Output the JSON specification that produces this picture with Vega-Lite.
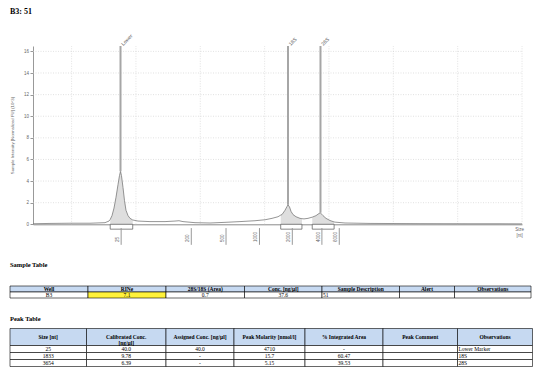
{
  "$schema": "https://vega.github.io/schema/vega-lite/v6.json",
  "width": 544,
  "height": 391,
  "autosize": {"type": "none"},
  "padding": 0,
  "background": "white",
  "config": {"view": {"stroke": null}, "font": "Liberation Sans"},
  "title": {"text": "B3: 51", "anchor": "start", "frame": "group", "dx": 10, "offset": -16, "baseline": "top", "font": "Liberation Serif", "fontSize": 8, "fontWeight": "bold", "color": "#000"},
  "datasets": {
    "curve": [
      {"u": 0.40, "v": 0.05, "r": ""}, {"u": 0.664, "v": 0.08, "r": ""}, {"u": 0.975, "v": 0.1, "r": ""},
      {"u": 1.286, "v": 0.1, "r": ""}, {"u": 1.519, "v": 0.15, "r": ""}, {"u": 1.581, "v": 0.3, "r": ""},
      {"u": 1.60, "v": 0.45, "r": "Lower"}, {"u": 1.628, "v": 0.8, "r": "Lower"}, {"u": 1.659, "v": 1.5, "r": "Lower"},
      {"u": 1.690, "v": 2.5, "r": "Lower"}, {"u": 1.722, "v": 3.7, "r": "Lower"}, {"u": 1.744, "v": 4.5, "r": "Lower"},
      {"u": 1.760, "v": 4.9, "r": "Lower"}, {"u": 1.775, "v": 4.5, "r": "Lower"}, {"u": 1.799, "v": 3.4, "r": "Lower"},
      {"u": 1.822, "v": 2.2, "r": "Lower"}, {"u": 1.845, "v": 1.3, "r": "Lower"}, {"u": 1.877, "v": 0.8, "r": "Lower"},
      {"u": 1.908, "v": 0.55, "r": "Lower"}, {"u": 1.95, "v": 0.4, "r": "Lower"},
      {"u": 2.032, "v": 0.3, "r": ""}, {"u": 2.218, "v": 0.25, "r": ""}, {"u": 2.452, "v": 0.25, "r": ""},
      {"u": 2.607, "v": 0.3, "r": ""}, {"u": 2.669, "v": 0.33, "r": ""}, {"u": 2.731, "v": 0.25, "r": ""},
      {"u": 2.918, "v": 0.15, "r": ""}, {"u": 3.151, "v": 0.12, "r": ""}, {"u": 3.384, "v": 0.18, "r": ""},
      {"u": 3.617, "v": 0.25, "r": ""}, {"u": 3.850, "v": 0.33, "r": ""}, {"u": 4.006, "v": 0.42, "r": ""},
      {"u": 4.115, "v": 0.55, "r": ""}, {"u": 4.208, "v": 0.7, "r": ""},
      {"u": 4.25, "v": 0.85, "r": "18S"}, {"u": 4.270, "v": 0.9, "r": "18S"}, {"u": 4.317, "v": 1.3, "r": "18S"},
      {"u": 4.348, "v": 1.65, "r": "18S"}, {"u": 4.363, "v": 1.8, "r": "18S"}, {"u": 4.387, "v": 1.6, "r": "18S"},
      {"u": 4.410, "v": 1.2, "r": "18S"}, {"u": 4.441, "v": 0.9, "r": "18S"}, {"u": 4.488, "v": 0.7, "r": "18S"},
      {"u": 4.550, "v": 0.55, "r": "18S"}, {"u": 4.58, "v": 0.52, "r": "18S"},
      {"u": 4.612, "v": 0.5, "r": ""}, {"u": 4.674, "v": 0.55, "r": ""},
      {"u": 4.74, "v": 0.66, "r": "28S"}, {"u": 4.798, "v": 0.8, "r": "28S"}, {"u": 4.845, "v": 1.0, "r": "28S"},
      {"u": 4.868, "v": 1.07, "r": "28S"}, {"u": 4.876, "v": 1.0, "r": "28S"}, {"u": 4.907, "v": 0.8, "r": "28S"},
      {"u": 4.954, "v": 0.55, "r": "28S"}, {"u": 5.016, "v": 0.35, "r": "28S"}, {"u": 5.08, "v": 0.22, "r": "28S"},
      {"u": 5.094, "v": 0.2, "r": ""}, {"u": 5.249, "v": 0.12, "r": ""}, {"u": 5.638, "v": 0.08, "r": ""},
      {"u": 6.415, "v": 0.06, "r": ""}, {"u": 7.192, "v": 0.05, "r": ""}, {"u": 7.658, "v": 0.05, "r": ""},
      {"u": 8.0, "v": 0.04, "r": ""}
    ],
    "peaks": [
      {"name": "Lower", "u": 1.76, "v": 4.9, "x0": 1.60, "x1": 1.95},
      {"name": "18S", "u": 4.363, "v": 1.8, "x0": 4.25, "x1": 4.58},
      {"name": "28S", "u": 4.868, "v": 1.07, "x0": 4.74, "x1": 5.08}
    ],
    "ladder": [
      {"size": "25", "u": 1.77}, {"size": "200", "u": 2.86}, {"size": "500", "u": 3.40},
      {"size": "1000", "u": 3.92}, {"size": "2000", "u": 4.43}, {"size": "4000", "u": 4.89}, {"size": "6000", "u": 5.16}
    ],
    "gridy": [{"g": 2}, {"g": 4}, {"g": 6}, {"g": 8}, {"g": 10}, {"g": 12}, {"g": 14}, {"g": 16}],
    "gridx": [{"g": 1}, {"g": 2}, {"g": 3}, {"g": 4}, {"g": 5}, {"g": 6}, {"g": 7}, {"g": 8}],
    "titles": [
      {"s": "Sample Table", "x": 0, "y": 14.5},
      {"s": "Peak Table", "x": 0, "y": 69}
    ],
    "cells": [
      {"x0": 0, "x1": 78, "y0": 36, "y1": 42, "k": "head", "a": "c", "s": "Well"},
      {"x0": 78, "x1": 156, "y0": 36, "y1": 42, "k": "head", "a": "c", "s": "RINe"},
      {"x0": 156, "x1": 234.5, "y0": 36, "y1": 42, "k": "head", "a": "c", "s": "28S/18S (Area)"},
      {"x0": 234.5, "x1": 312, "y0": 36, "y1": 42, "k": "head", "a": "c", "s": "Conc. [ng/µl]"},
      {"x0": 312, "x1": 389.5, "y0": 36, "y1": 42, "k": "head", "a": "c", "s": "Sample Description"},
      {"x0": 389.5, "x1": 444.5, "y0": 36, "y1": 42, "k": "head", "a": "c", "s": "Alert"},
      {"x0": 444.5, "x1": 521, "y0": 36, "y1": 42, "k": "head", "a": "c", "s": "Observations"},
      {"x0": 0, "x1": 78, "y0": 42, "y1": 48, "k": "body", "a": "c", "s": "B3"},
      {"x0": 78, "x1": 156, "y0": 42, "y1": 48, "k": "hi", "a": "c", "s": "7.1"},
      {"x0": 156, "x1": 234.5, "y0": 42, "y1": 48, "k": "body", "a": "c", "s": "0.7"},
      {"x0": 234.5, "x1": 312, "y0": 42, "y1": 48, "k": "body", "a": "c", "s": "37.6"},
      {"x0": 312, "x1": 389.5, "y0": 42, "y1": 48, "k": "body", "a": "l", "s": "51"},
      {"x0": 389.5, "x1": 444.5, "y0": 42, "y1": 48, "k": "body", "a": "c", "s": ""},
      {"x0": 444.5, "x1": 521, "y0": 42, "y1": 48, "k": "body", "a": "c", "s": ""},

      {"x0": 0, "x1": 76.5, "y0": 78.5, "y1": 95.5, "k": "head", "a": "c", "s": "Size [nt]"},
      {"x0": 76.5, "x1": 156, "y0": 78.5, "y1": 95.5, "k": "head", "a": "c", "s": "Calibrated Conc.\n[ng/µl]"},
      {"x0": 156, "x1": 224, "y0": 78.5, "y1": 95.5, "k": "head", "a": "c", "s": "Assigned Conc. [ng/µl]"},
      {"x0": 224, "x1": 295, "y0": 78.5, "y1": 95.5, "k": "head", "a": "c", "s": "Peak Molarity [nmol/l]"},
      {"x0": 295, "x1": 373, "y0": 78.5, "y1": 95.5, "k": "head", "a": "c", "s": "% Integrated Area"},
      {"x0": 373, "x1": 447.5, "y0": 78.5, "y1": 95.5, "k": "head", "a": "c", "s": "Peak Comment"},
      {"x0": 447.5, "x1": 522.5, "y0": 78.5, "y1": 95.5, "k": "head", "a": "c", "s": "Observations"},

      {"x0": 0, "x1": 76.5, "y0": 95.5, "y1": 102.5, "k": "body", "a": "c", "s": "25"},
      {"x0": 76.5, "x1": 156, "y0": 95.5, "y1": 102.5, "k": "body", "a": "c", "s": "40.0"},
      {"x0": 156, "x1": 224, "y0": 95.5, "y1": 102.5, "k": "body", "a": "c", "s": "40.0"},
      {"x0": 224, "x1": 295, "y0": 95.5, "y1": 102.5, "k": "body", "a": "c", "s": "4710"},
      {"x0": 295, "x1": 373, "y0": 95.5, "y1": 102.5, "k": "body", "a": "c", "s": "-"},
      {"x0": 373, "x1": 447.5, "y0": 95.5, "y1": 102.5, "k": "body", "a": "c", "s": ""},
      {"x0": 447.5, "x1": 522.5, "y0": 95.5, "y1": 102.5, "k": "body", "a": "l", "s": "Lower Marker"},

      {"x0": 0, "x1": 76.5, "y0": 102.5, "y1": 109.5, "k": "body", "a": "c", "s": "1833"},
      {"x0": 76.5, "x1": 156, "y0": 102.5, "y1": 109.5, "k": "body", "a": "c", "s": "9.78"},
      {"x0": 156, "x1": 224, "y0": 102.5, "y1": 109.5, "k": "body", "a": "c", "s": "-"},
      {"x0": 224, "x1": 295, "y0": 102.5, "y1": 109.5, "k": "body", "a": "c", "s": "15.7"},
      {"x0": 295, "x1": 373, "y0": 102.5, "y1": 109.5, "k": "body", "a": "c", "s": "60.47"},
      {"x0": 373, "x1": 447.5, "y0": 102.5, "y1": 109.5, "k": "body", "a": "c", "s": ""},
      {"x0": 447.5, "x1": 522.5, "y0": 102.5, "y1": 109.5, "k": "body", "a": "l", "s": "18S"},

      {"x0": 0, "x1": 76.5, "y0": 109.5, "y1": 116.5, "k": "body", "a": "c", "s": "3654"},
      {"x0": 76.5, "x1": 156, "y0": 109.5, "y1": 116.5, "k": "body", "a": "c", "s": "6.39"},
      {"x0": 156, "x1": 224, "y0": 109.5, "y1": 116.5, "k": "body", "a": "c", "s": "-"},
      {"x0": 224, "x1": 295, "y0": 109.5, "y1": 116.5, "k": "body", "a": "c", "s": "5.15"},
      {"x0": 295, "x1": 373, "y0": 109.5, "y1": 116.5, "k": "body", "a": "c", "s": "39.53"},
      {"x0": 373, "x1": 447.5, "y0": 109.5, "y1": 116.5, "k": "body", "a": "c", "s": ""},
      {"x0": 447.5, "x1": 522.5, "y0": 109.5, "y1": 116.5, "k": "body", "a": "l", "s": "28S"}
    ]
  },
  "layer": [
    {
      "layer": [
        {
          "data": {"name": "gridy"},
          "mark": {"type": "rule", "color": "#cfcfcf", "strokeWidth": 0.6, "strokeDash": [1, 1.5]},
          "encoding": {
            "x": {"datum": 0.4, "type": "quantitative",
              "scale": {"domain": [0.4, 8.0], "range": [33, 522], "nice": false, "zero": false},
              "axis": {"domain": true, "domainColor": "#8a8a8a", "domainWidth": 1, "ticks": false, "labels": false, "grid": false,
                "offset": -166.7, "title": ["Size", "[nt]"], "titleFontSize": 4.5, "titleColor": "#666", "titleFontWeight": "normal",
                "titleX": 519, "titleY": 2, "titleAlign": "center", "titleBaseline": "top", "titleAngle": 0, "titleLineHeight": 6}},
            "x2": {"datum": 8.0},
            "y": {"field": "g", "type": "quantitative",
              "scale": {"domain": [0, 16.5], "range": [224.3, 46], "nice": false, "zero": false},
              "axis": {"values": [0, 0.5, 1, 1.5, 2, 2.5, 3, 3.5, 4, 4.5, 5, 5.5, 6, 6.5, 7, 7.5, 8, 8.5, 9, 9.5, 10, 10.5, 11, 11.5, 12, 12.5, 13, 13.5, 14, 14.5, 15, 15.5, 16],
                "labelExpr": "datum.value % 2 === 0 ? '' + datum.value : ''",
                "tickSize": {"condition": {"test": "datum.value % 2 === 0", "value": 3}, "value": 1.5},
                "tickColor": "#999", "domainColor": "#999", "labelFontSize": 4.5, "labelColor": "#666", "labelPadding": 1.5,
                "labelOverlap": false, "labelFlush": false, "grid": false, "offset": -33,
                "title": "Sample Intensity [Normalized FU] (10^3)", "titleFontSize": 4.3, "titleFontWeight": "normal", "titleColor": "#666",
                "titleX": -21, "titleY": 135, "titleAngle": 270, "titleAlign": "center", "titleBaseline": "middle"}}
          }
        },
        {
          "data": {"name": "gridx"},
          "mark": {"type": "rule", "color": "#cfcfcf", "strokeWidth": 0.6, "strokeDash": [1, 1.5]},
          "encoding": {
            "x": {"field": "g", "type": "quantitative"},
            "y": {"datum": 0, "type": "quantitative"},
            "y2": {"datum": 16.5}
          }
        },
        {
          "data": {"name": "curve"},
          "transform": [{"filter": "datum.r == 'Lower'"}],
          "mark": {"type": "area", "color": "#dedede", "opacity": 1},
          "encoding": {
            "x": {"field": "u", "type": "quantitative"},
            "y": {"field": "v", "type": "quantitative", "stack": null}
          }
        },
        {
          "data": {"name": "curve"},
          "transform": [{"filter": "datum.r == '18S'"}],
          "mark": {"type": "area", "color": "#dedede", "opacity": 1},
          "encoding": {
            "x": {"field": "u", "type": "quantitative"},
            "y": {"field": "v", "type": "quantitative", "stack": null}
          }
        },
        {
          "data": {"name": "curve"},
          "transform": [{"filter": "datum.r == '28S'"}],
          "mark": {"type": "area", "color": "#dedede", "opacity": 1},
          "encoding": {
            "x": {"field": "u", "type": "quantitative"},
            "y": {"field": "v", "type": "quantitative", "stack": null}
          }
        },
        {
          "data": {"name": "curve"},
          "mark": {"type": "line", "color": "#7a7a7a", "strokeWidth": 0.8},
          "encoding": {
            "x": {"field": "u", "type": "quantitative"},
            "y": {"field": "v", "type": "quantitative"}
          }
        },
        {
          "data": {"name": "peaks"},
          "mark": {"type": "rule", "color": "#a6a6a6", "strokeWidth": 2},
          "encoding": {
            "x": {"field": "u", "type": "quantitative"},
            "y": {"field": "v", "type": "quantitative"},
            "y2": {"datum": 16.5}
          }
        },
        {
          "data": {"name": "peaks"},
          "mark": {"type": "text", "angle": 315, "align": "left", "baseline": "middle", "fontSize": 5, "color": "#555", "dx": 2},
          "encoding": {
            "x": {"field": "u", "type": "quantitative"},
            "y": {"datum": 16.5, "type": "quantitative"},
            "text": {"field": "name"}
          }
        },
        {
          "data": {"name": "peaks"},
          "mark": {"type": "rect", "fill": "white", "stroke": "#555", "strokeWidth": 0.7},
          "encoding": {
            "x": {"field": "x0", "type": "quantitative"},
            "x2": {"field": "x1"},
            "y": {"datum": 0, "type": "quantitative"},
            "y2": {"datum": -0.45}
          }
        },
        {
          "data": {"name": "ladder"},
          "mark": {"type": "rule", "color": "#999", "strokeWidth": 1},
          "encoding": {
            "x": {"field": "u", "type": "quantitative"},
            "y": {"datum": -0.35, "type": "quantitative"},
            "y2": {"datum": -1.9}
          }
        },
        {
          "data": {"name": "ladder"},
          "mark": {"type": "text", "angle": 270, "align": "left", "baseline": "bottom", "fontSize": 4.5, "color": "#666", "dy": -1},
          "encoding": {
            "x": {"field": "u", "type": "quantitative"},
            "y": {"datum": -1.64, "type": "quantitative"},
            "text": {"field": "size"}
          }
        }
      ]
    },
    {
      "layer": [
        {
          "data": {"name": "cells"},
          "mark": {"type": "rect", "stroke": "#000", "strokeWidth": 0.6},
          "encoding": {
            "x": {"field": "x0", "type": "quantitative", "axis": null,
              "scale": {"domain": [0, 521], "range": [10, 531], "nice": false, "zero": false}},
            "x2": {"field": "x1"},
            "y": {"field": "y0", "type": "quantitative", "axis": null,
              "scale": {"domain": [0, 141], "range": [250, 391], "nice": false, "zero": false}},
            "y2": {"field": "y1"},
            "fill": {"field": "k", "type": "nominal", "legend": null,
              "scale": {"domain": ["head", "body", "hi"], "range": ["#c6d9f1", "#ffffff", "#fff23a"]}}
          }
        },
        {
          "data": {"name": "cells"},
          "transform": [{"filter": "datum.k == 'head'"}, {"calculate": "(datum.x0 + datum.x1) / 2", "as": "xm"}, {"calculate": "(datum.y0 + datum.y1) / 2", "as": "ym"}],
          "mark": {"type": "text", "font": "Liberation Serif", "fontSize": 5.5, "fontWeight": "bold", "color": "#000", "align": "center", "baseline": "middle", "lineBreak": "\n", "lineHeight": 6},
          "encoding": {
            "x": {"field": "xm", "type": "quantitative", "axis": null},
            "y": {"field": "ym", "type": "quantitative", "axis": null},
            "text": {"field": "s"}
          }
        },
        {
          "data": {"name": "cells"},
          "transform": [{"filter": "datum.k != 'head' && datum.a == 'c'"}, {"calculate": "(datum.x0 + datum.x1) / 2", "as": "xm"}, {"calculate": "(datum.y0 + datum.y1) / 2", "as": "ym"}],
          "mark": {"type": "text", "font": "Liberation Serif", "fontSize": 5.5, "color": "#000", "align": "center", "baseline": "middle"},
          "encoding": {
            "x": {"field": "xm", "type": "quantitative", "axis": null},
            "y": {"field": "ym", "type": "quantitative", "axis": null},
            "text": {"field": "s"}
          }
        },
        {
          "data": {"name": "cells"},
          "transform": [{"filter": "datum.k != 'head' && datum.a == 'l'"}, {"calculate": "(datum.y0 + datum.y1) / 2", "as": "ym"}],
          "mark": {"type": "text", "font": "Liberation Serif", "fontSize": 5.5, "color": "#000", "align": "left", "baseline": "middle", "dx": 1},
          "encoding": {
            "x": {"field": "x0", "type": "quantitative", "axis": null},
            "y": {"field": "ym", "type": "quantitative", "axis": null},
            "text": {"field": "s"}
          }
        },
        {
          "data": {"name": "titles"},
          "mark": {"type": "text", "font": "Liberation Serif", "fontSize": 6.5, "fontWeight": "bold", "color": "#000", "align": "left", "baseline": "middle"},
          "encoding": {
            "x": {"field": "x", "type": "quantitative", "axis": null},
            "y": {"field": "y", "type": "quantitative", "axis": null},
            "text": {"field": "s"}
          }
        }
      ]
    }
  ],
  "resolve": {"scale": {"x": "independent", "y": "independent"}}
}
